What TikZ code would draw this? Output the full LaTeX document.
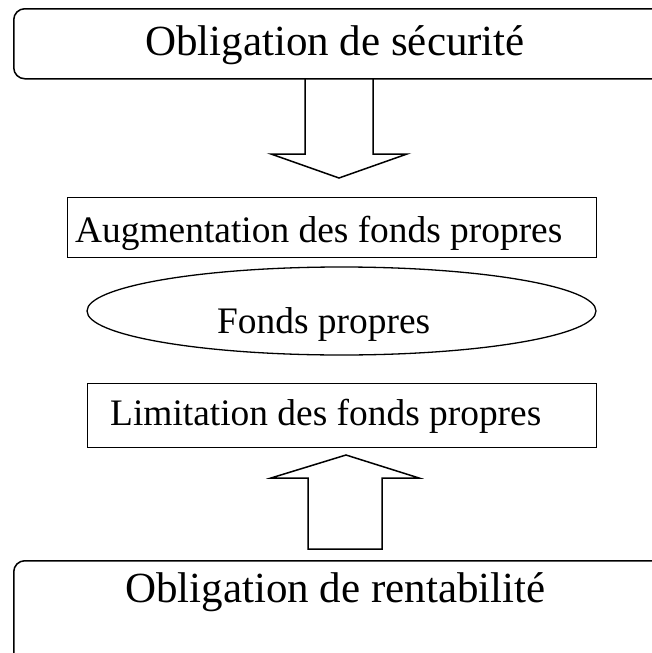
\documentclass[tikz,border=0pt]{standalone}
\usepackage{fontspec}
\setmainfont{Liberation Serif}
\usetikzlibrary{shapes.geometric}
\tikzset{
  line/.style={line width=1.5pt, line join=miter},
  roundbox/.style={draw, line width=1.5pt, rounded corners=11pt, inner sep=0pt, anchor=north west},
  plainbox/.style={draw, line width=1.3pt, inner sep=0pt, anchor=north west},
  bigtxt/.style={inner sep=0pt, anchor=base west, font=\fontsize{43}{50}\selectfont},
  midtxt/.style={inner sep=0pt, anchor=base west, font=\fontsize{37.4}{44}\selectfont},
}
\begin{document}
\begin{tikzpicture}[x=1pt,y=-1pt]
\useasboundingbox (0,0) rectangle (652,653);
\clip (0,0) rectangle (652,653);
\fill[white] (0,0) rectangle (652,653);
% top rounded box
\node[roundbox, minimum width=680pt, minimum height=70pt] (sec) at (13,8) {};
\node[bigtxt] (sect) at (145,55) {Obligation de sécurité};
% down block arrow
\coordinate (d1) at (305,78);
\coordinate (d2) at (373,78);
\draw[line] (d1) -- (305,154) -- (271,154) -- (339,178) -- (407,154) -- (373,154) -- (d2);
% Augmentation box
\node[plainbox, minimum width=529pt, minimum height=60pt] (aug) at (67,197) {};
\node[midtxt] (augt) at (75,242) {Augmentation des fonds propres};
% ellipse
\node[draw, line width=1.3pt, ellipse, minimum width=509pt, minimum height=88pt, inner sep=0pt] (fp) at (341.5,311) {};
\node[midtxt] (fpt) at (217,333) {Fonds propres};
% Limitation box
\node[plainbox, minimum width=509pt, minimum height=64pt] (lim) at (87,383) {};
\node[midtxt] (limt) at (110,425) {Limitation des fonds propres};
% up block arrow
\draw[line] (308,549) -- (308,478) -- (271,478) -- (346,455) -- (419,478) -- (382,478) -- (382,549) -- cycle;
% bottom rounded box
\node[roundbox, minimum width=680pt, minimum height=140pt] (ren) at (13,560) {};
\node[bigtxt] (rent) at (125,602) {Obligation de rentabilité};
\end{tikzpicture}
\end{document}
